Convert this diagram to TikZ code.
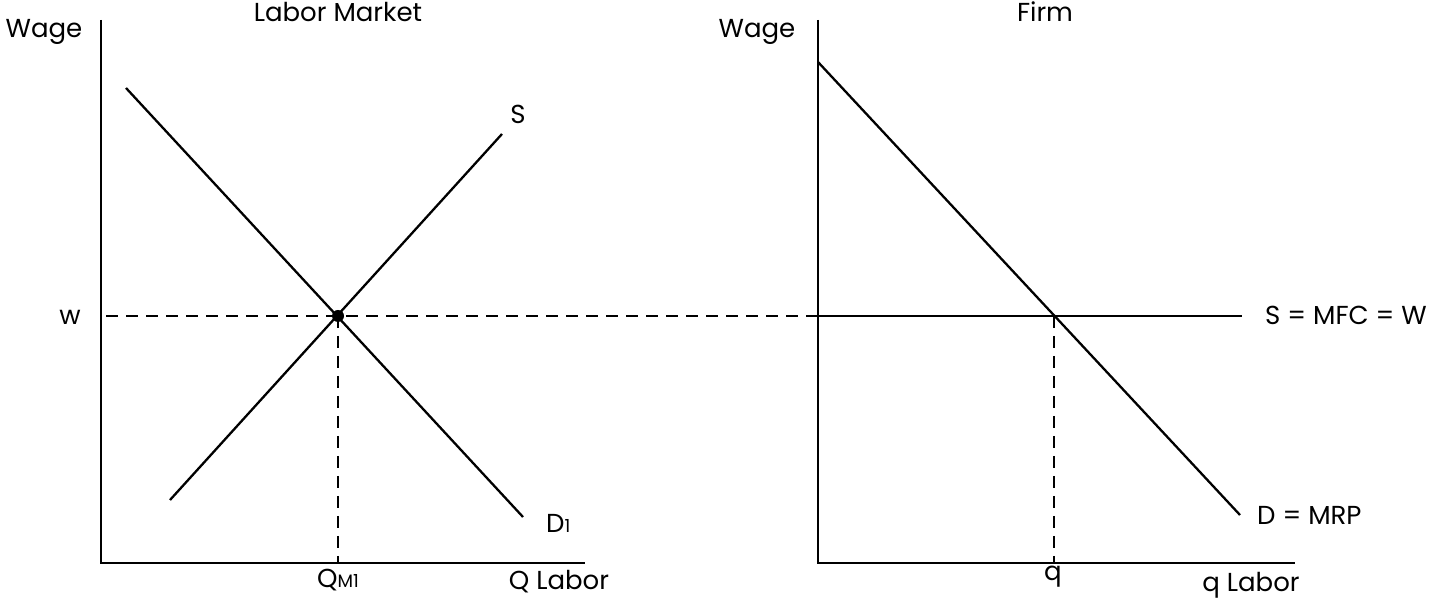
\documentclass[tikz,border=0pt]{standalone}
\usepackage{fontspec}
\setmainfont{Poppins}
\usetikzlibrary{positioning}
\tikzset{
  axis/.style={line width=2.5pt},
  curve/.style={line width=2.3pt},
  guide/.style={line width=2.3pt, dash pattern=on 12pt off 8pt},
  lbl/.style={font=\fontsize{26}{28}\selectfont, inner sep=0pt, anchor=base},
}
\newcommand{\smallsub}[1]{{\fontsize{18}{20}\selectfont #1}}
\begin{document}
\begin{tikzpicture}[x=1pt,y=1pt]
  \useasboundingbox (0,0) rectangle (1440,601);
  % labor market
  \coordinate (lo) at (101,38);
  \coordinate (ltop) at (101,581);
  \coordinate (lend) at (585,38);
  \coordinate (dA) at (126,513);
  \coordinate (dB) at (523,84);
  \coordinate (sA) at (170,101);
  \coordinate (sB) at (502,467);
  \coordinate (eq) at (338,285);
  \coordinate (wstart) at (106,285);
  \coordinate (qm) at (338,38);
  \draw[axis] (ltop) -- (lo) -- (lend);
  \draw[curve] (dA) -- (dB);
  \draw[curve] (sA) -- (sB);
  \draw[guide] (eq) -- (qm);
  \fill (eq) circle (6pt);
  \node[lbl] (wageL) at (44,563) {Wage};
  \node[lbl] (titleL) at (338,579) {Labor Market};
  \node[lbl] (wL) at (70,276) {w};
  \node[lbl] (sL) at (518,477) {S};
  \node[lbl, anchor=base west] (dL) at (546,68) {D\smallsub{1}};
  \node[lbl] (qmL) at (338,13) {Q\smallsub{M1}};
  \node[lbl] (qlabL) at (559,11) {Q Labor};
  % firm
  \coordinate (fo) at (818,38);
  \coordinate (ftop) at (818,581);
  \coordinate (fend) at (1295,38);
  \coordinate (fA) at (818,539);
  \coordinate (fB) at (1240,86);
  \coordinate (fw) at (818,285);
  \coordinate (fwend) at (1242,285);
  \coordinate (feq) at (1054,285);
  \coordinate (fq) at (1054,38);
  \draw[axis] (ftop) -- (fo) -- (fend);
  \draw[curve] (fA) -- (fB);
  \draw[guide] (wstart) -- (fw);
  \draw[curve] (fw) -- (fwend);
  \draw[guide] (feq) -- (fq);
  \node[lbl] (wageF) at (757,563) {Wage};
  \node[lbl] (titleF) at (1045,579) {Firm};
  \node[lbl, anchor=base west] (mfc) at (1265,276) {S = MFC = W};
  \node[lbl, anchor=base west] (mrp) at (1257,76) {D = MRP};
  \node[lbl] (qF) at (1053,20) {q};
  \node[lbl] (qlabF) at (1251,9) {q Labor};
\end{tikzpicture}
\end{document}
